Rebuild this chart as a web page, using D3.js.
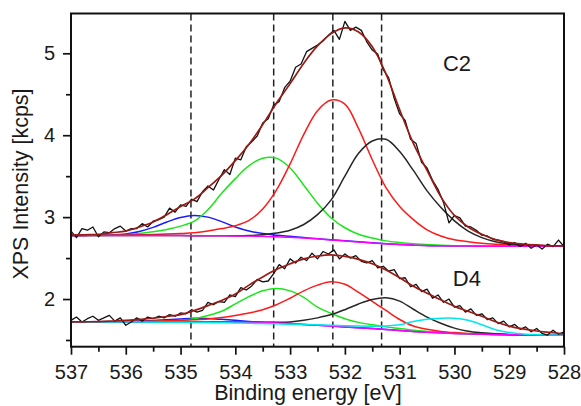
<!DOCTYPE html>
<html><head><meta charset="utf-8">
<script src="https://cdn.jsdelivr.net/npm/d3@7"></script>
<style>
body{margin:0;background:#fff;}
text{font-family:"Liberation Sans",Arial,Helvetica,sans-serif;fill:#1a1a1a;}
</style>
</head><body>
<svg id="chart" width="581" height="406"></svg>
<script>
// ---------- DATA ----------
const energyData = [537.0,536.9,536.8,536.7,536.6,536.5,536.4,536.3,536.2,536.1,536.0,535.9,535.8,535.7,535.6,535.5,535.4,535.3,535.2,535.1,535.0,534.9,534.8,534.7,534.6,534.5,534.4,534.3,534.2,534.1,534.0,533.9,533.8,533.7,533.6,533.5,533.4,533.3,533.2,533.1,533.0,532.9,532.8,532.7,532.6,532.5,532.4,532.3,532.2,532.1,532.0,531.9,531.8,531.7,531.6,531.5,531.4,531.3,531.2,531.1,531.0,530.9,530.8,530.7,530.6,530.5,530.4,530.3,530.2,530.1,530.0,529.9,529.8,529.7,529.6,529.5,529.4,529.3,529.2,529.1,529.0,528.9,528.8,528.7,528.6,528.5,528.4,528.3,528.2,528.1,528.0];

const c2Data = [2.83,2.75,2.86,2.84,2.88,2.76,2.82,2.81,2.86,2.89,2.83,2.86,2.86,2.92,2.88,2.95,2.97,3.00,3.11,3.06,3.15,3.13,3.22,3.19,3.31,3.38,3.33,3.46,3.58,3.52,3.72,3.70,3.86,3.92,3.99,4.15,4.20,4.37,4.41,4.58,4.66,4.83,4.87,5.02,5.06,5.10,5.15,5.22,5.28,5.17,5.39,5.28,5.32,5.28,5.14,5.04,4.99,4.80,4.70,4.45,4.26,4.18,3.95,3.90,3.67,3.60,3.45,3.34,3.18,2.93,3.02,2.99,2.89,2.88,2.84,2.78,2.77,2.73,2.72,2.70,2.66,2.69,2.64,2.68,2.62,2.66,2.61,2.67,2.64,2.72,2.64];

const d4Data = [1.74,1.78,1.72,1.76,1.79,1.74,1.77,1.80,1.73,1.77,1.68,1.72,1.77,1.73,1.78,1.76,1.79,1.77,1.81,1.79,1.83,1.82,1.87,1.84,1.86,1.96,1.93,1.97,1.96,2.05,2.03,2.14,2.11,2.16,2.24,2.21,2.22,2.31,2.42,2.37,2.49,2.44,2.51,2.47,2.56,2.49,2.58,2.55,2.60,2.49,2.55,2.50,2.53,2.46,2.44,2.47,2.38,2.40,2.34,2.36,2.25,2.26,2.15,2.18,2.09,2.12,2.01,2.05,1.96,2.00,1.90,1.92,1.84,1.88,1.80,1.82,1.75,1.77,1.70,1.73,1.66,1.69,1.63,1.66,1.60,1.64,1.58,1.56,1.62,1.57,1.60];

const energyFit = [537.0,536.75,536.5,536.25,536.0,535.75,535.5,535.25,535.0,534.75,534.5,534.25,534.0,533.75,533.5,533.25,533.0,532.75,532.5,532.25,532.0,531.75,531.5,531.25,531.0,530.75,530.5,530.25,530.0,529.75,529.5,529.25,529.0,528.75,528.5,528.25,528.0];

const c2Envelope = [2.78,2.785,2.79,2.81,2.83,2.88,2.94,3.03,3.13,3.22,3.36,3.51,3.69,3.89,4.13,4.39,4.63,4.88,5.09,5.24,5.31,5.26,5.08,4.75,4.31,3.90,3.57,3.25,3.02,2.88,2.79,2.725,2.69,2.672,2.66,2.65,2.65];
const c2Background = [2.775,2.775,2.775,2.775,2.775,2.775,2.775,2.775,2.775,2.774,2.773,2.772,2.77,2.768,2.765,2.76,2.755,2.745,2.735,2.722,2.71,2.697,2.685,2.674,2.665,2.658,2.652,2.649,2.647,2.646,2.645,2.645,2.645,2.645,2.645,2.645,2.645];
const c2Blue = [2.776,2.777,2.778,2.782,2.795,2.825,2.875,2.94,2.995,3.02,3.00,2.945,2.88,2.83,2.80,2.78,2.765,2.75,2.737,2.723,2.711,2.698,2.686,2.675,2.666,2.659,2.653,2.65,2.648,2.647,2.646,2.645,2.645,2.645,2.645,2.645,2.645];
const c2Green = [2.775,2.775,2.776,2.778,2.785,2.80,2.82,2.85,2.89,2.95,3.09,3.29,3.47,3.63,3.72,3.72,3.60,3.39,3.17,2.99,2.87,2.79,2.745,2.71,2.69,2.675,2.665,2.657,2.652,2.649,2.647,2.646,2.645,2.645,2.645,2.645,2.645];
const c2Red = [2.776,2.777,2.778,2.78,2.782,2.785,2.788,2.793,2.80,2.81,2.83,2.86,2.895,2.96,3.10,3.33,3.65,4.01,4.30,4.43,4.38,4.08,3.70,3.36,3.13,2.97,2.845,2.77,2.725,2.70,2.68,2.668,2.66,2.655,2.651,2.648,2.646];
const c2Black = [2.775,2.775,2.775,2.775,2.775,2.775,2.775,2.775,2.775,2.774,2.773,2.772,2.772,2.775,2.785,2.805,2.84,2.91,3.03,3.21,3.50,3.78,3.93,3.95,3.80,3.57,3.32,3.12,2.955,2.83,2.75,2.70,2.675,2.66,2.652,2.648,2.646];

const d4Envelope = [1.72,1.722,1.725,1.732,1.74,1.752,1.765,1.787,1.81,1.86,1.92,1.982,2.06,2.17,2.27,2.36,2.43,2.49,2.525,2.54,2.52,2.485,2.43,2.355,2.26,2.155,2.07,1.99,1.91,1.85,1.79,1.722,1.67,1.635,1.61,1.592,1.575];
const d4Background = [1.72,1.72,1.72,1.72,1.72,1.72,1.72,1.72,1.72,1.72,1.72,1.72,1.72,1.718,1.714,1.708,1.70,1.69,1.68,1.67,1.66,1.65,1.64,1.628,1.615,1.605,1.595,1.587,1.58,1.575,1.57,1.567,1.565,1.563,1.562,1.561,1.56];
const d4Cyan = [1.72,1.72,1.72,1.72,1.72,1.719,1.718,1.717,1.716,1.714,1.712,1.71,1.707,1.704,1.70,1.697,1.693,1.689,1.685,1.68,1.675,1.67,1.668,1.672,1.685,1.725,1.752,1.765,1.765,1.74,1.685,1.625,1.59,1.572,1.565,1.562,1.56];
const d4Blue = [1.72,1.72,1.721,1.723,1.726,1.731,1.738,1.748,1.757,1.764,1.762,1.752,1.74,1.727,1.716,1.709,1.70,1.69,1.68,1.67,1.66,1.65,1.64,1.628,1.615,1.605,1.595,1.587,1.58,1.575,1.57,1.567,1.565,1.563,1.562,1.561,1.56];
const d4Green = [1.72,1.72,1.72,1.721,1.722,1.724,1.727,1.731,1.737,1.76,1.80,1.85,1.94,2.03,2.10,2.13,2.10,2.02,1.90,1.825,1.76,1.715,1.685,1.66,1.64,1.62,1.605,1.592,1.583,1.577,1.572,1.568,1.565,1.563,1.562,1.561,1.56];
const d4Red = [1.72,1.72,1.721,1.722,1.724,1.727,1.73,1.735,1.74,1.747,1.757,1.775,1.80,1.83,1.87,1.93,2.01,2.10,2.17,2.21,2.18,2.08,1.97,1.86,1.75,1.67,1.63,1.605,1.59,1.58,1.573,1.568,1.565,1.563,1.562,1.561,1.56];
const d4Black = [1.72,1.72,1.72,1.72,1.72,1.72,1.72,1.72,1.72,1.72,1.72,1.72,1.72,1.718,1.716,1.716,1.72,1.74,1.77,1.81,1.87,1.94,1.995,2.015,1.975,1.875,1.78,1.705,1.645,1.607,1.588,1.575,1.567,1.563,1.562,1.561,1.56];

const xTickValues = [537,536,535,534,533,532,531,530,529,528];
const xMinorTicks = [536.5,535.5,534.5,533.5,532.5,531.5,530.5,529.5,528.5];
const yTickValues = [2,3,4,5];
const yMinorTicks = [1.5,2.5,3.5,4.5];
const peakPositions = [534.81,533.30,532.22,531.33];
const sampleLabels = [{text:"C2", e:530.21, v:4.78},{text:"D4", e:530.03, v:2.16}];

// ---------- CHART ----------
const svg = d3.select("#chart");
const L = 71, R = 564, T = 13.5, B = 346.7;
const x = d3.scaleLinear().domain([537,528]).range([L,R]);
const y = d3.scaleLinear().domain([1.418,5.486]).range([B,T]);

const plot = svg.append("g");
svg.append("clipPath").attr("id","clip").append("rect")
  .attr("x",L).attr("y",T).attr("width",R-L).attr("height",B-T);
plot.attr("clip-path","url(#clip)");

const smooth = d3.line().x((d,i)=>x(energyFit[i])).y(d=>y(d)).curve(d3.curveCatmullRom);
const raw = d3.line().x((d,i)=>x(energyData[i])).y(d=>y(d));

// dashed peak lines
plot.selectAll("line.peak").data(peakPositions).enter().append("line")
  .attr("x1",d=>x(d)).attr("x2",d=>x(d)).attr("y1",T).attr("y2",B)
  .attr("stroke","#222").attr("stroke-width",1.5).attr("stroke-dasharray","7,4");

const comps = [
  [c2Blue,"#1a1aff"],[c2Green,"#19e619"],[c2Red,"#ff1a1a"],[c2Black,"#262626"],[c2Background,"#ff00ff"],
  [d4Blue,"#1a1aff"],[d4Green,"#19e619"],[d4Red,"#ff1a1a"],[d4Black,"#262626"],[d4Background,"#ff00ff"],[d4Cyan,"#00e6f0"]
];
comps.forEach(([arr,col])=>{
  plot.append("path").attr("d",smooth(arr)).attr("fill","none")
    .attr("stroke",col).attr("stroke-width",1.5);
});

[c2Data,d4Data].forEach(arr=>{
  plot.append("path").attr("d",raw(arr)).attr("fill","none")
    .attr("stroke","#111").attr("stroke-width",1.3).attr("stroke-linejoin","round");
});
[c2Envelope,d4Envelope].forEach(arr=>{
  plot.append("path").attr("d",smooth(arr)).attr("fill","none")
    .attr("stroke","#9a1a15").attr("stroke-width",1.7);
});

// frame
svg.append("rect").attr("x",L).attr("y",T).attr("width",R-L).attr("height",B-T)
  .attr("fill","none").attr("stroke","#111").attr("stroke-width",2);

// x axis
svg.append("g").attr("transform",`translate(0,${B})`)
  .call(d3.axisBottom(x).tickValues(xTickValues).tickSize(8).tickPadding(10).tickFormat(d3.format("d")));
svg.append("g").attr("transform",`translate(0,${B})`)
  .call(d3.axisBottom(x).tickValues(xMinorTicks).tickSize(5).tickFormat(""));
// y axis
svg.append("g").attr("transform",`translate(${L},0)`)
  .call(d3.axisLeft(y).tickValues(yTickValues).tickSize(8).tickPadding(8).tickFormat(d3.format("d")));
svg.append("g").attr("transform",`translate(${L},0)`)
  .call(d3.axisLeft(y).tickValues(yMinorTicks).tickSize(5).tickFormat(""));

svg.selectAll(".domain").remove();
svg.selectAll(".tick line").attr("stroke","#111").attr("stroke-width",1.7);
svg.selectAll(".tick text").attr("font-size",20).attr("fill","#1a1a1a")
  .style("font-family",'"Liberation Sans",Arial,sans-serif');

// axis titles
svg.append("text").attr("x",308).attr("y",400).attr("text-anchor","middle")
  .attr("font-size",21.5).text("Binding energy [eV]");
svg.append("text").attr("transform","translate(28,184) rotate(-90)")
  .attr("text-anchor","middle").attr("font-size",21.5).text("XPS Intensity [kcps]");

// sample labels
svg.selectAll("text.lab").data(sampleLabels).enter().append("text")
  .attr("class","lab").attr("x",d=>x(d.e)).attr("y",d=>y(d.v))
  .attr("font-size",22).text(d=>d.text);
</script>
</body></html>
